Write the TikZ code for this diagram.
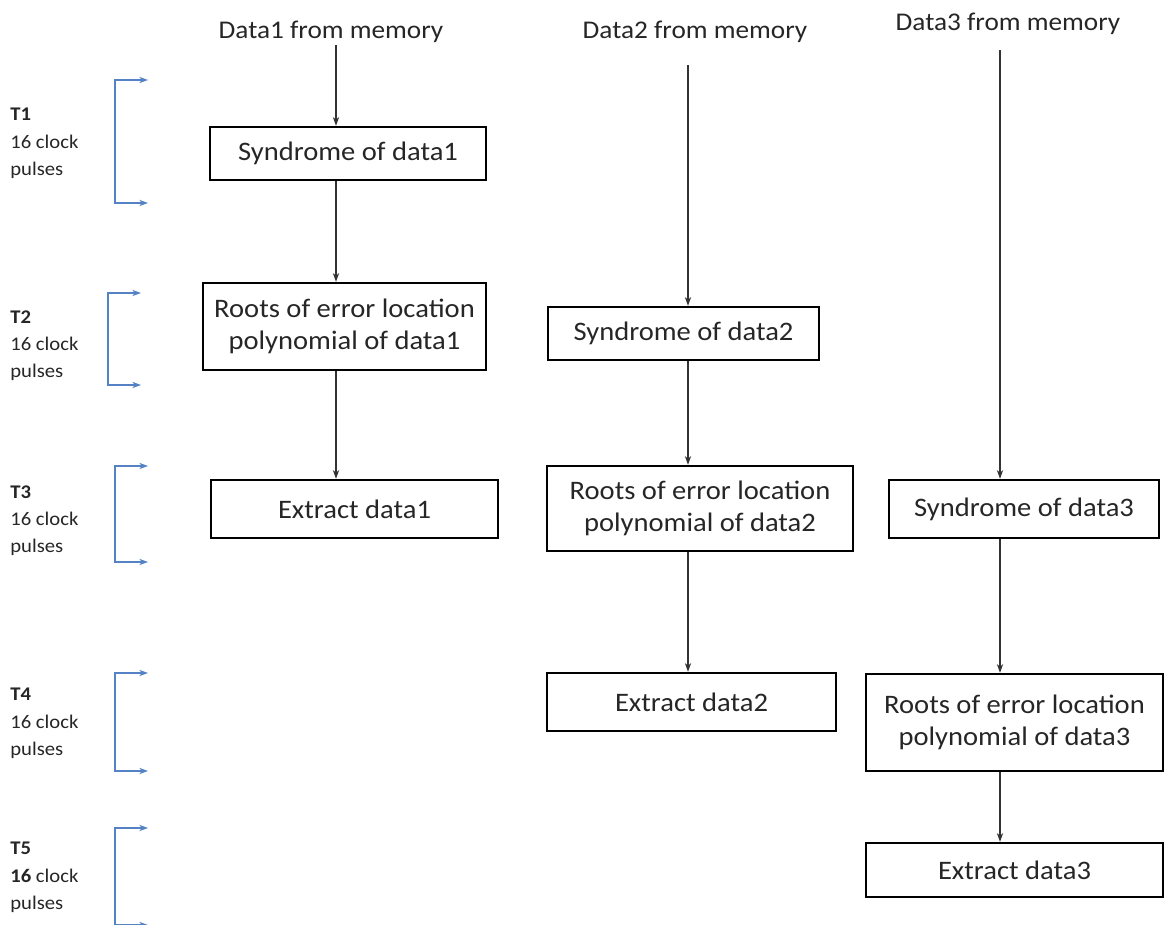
\documentclass[tikz,border=0pt]{standalone}
\usepackage{fontspec}
\setmainfont{Carlito}[FakeStretch=1.07]
\usepackage{tikz}
\usetikzlibrary{arrows.meta, positioning}
\definecolor{clockblue}{RGB}{84,130,196}
\definecolor{boxtext}{RGB}{38,38,38}

\tikzset{
  stage/.style={draw=black, line width=1.4pt, align=center, inner sep=0pt,
    font=\fontsize{15.2}{18}\selectfont, text=boxtext},
  source/.style={font=\fontsize{14.5}{18}\selectfont, text=boxtext, inner sep=1pt},
  flow/.style={draw=black!80, line width=0.6pt, -{Stealth[length=5pt,width=3.6pt]}},
  clock/.style={draw=clockblue, line width=0.7pt,
    {Stealth[length=5pt,width=3.6pt]}-{Stealth[length=5pt,width=3.6pt]}},
  period/.style={anchor=north west, align=left, inner sep=0pt,
    font=\fontsize{11}{15.6}\selectfont, text=boxtext}
}

\begin{document}
\begin{tikzpicture}[x=0.02cm, y=-0.02cm]
  \clip (0,0) rectangle (1165,925);
  \useasboundingbox (0,0) rectangle (1165,925);

  % Sources
  \node[source] (src1) at (331,32) {Data1 from memory};
  \node[source] (src2) at (695,32) {Data2 from memory};
  \node[source] (src3) at (1008,24) {Data3 from memory};

  % Column 1: data1
  \node[stage, minimum width=5.52cm, minimum height=1.06cm] (syn1) at (348,153.5) {Syndrome of data1};
  \node[stage, minimum width=5.66cm, minimum height=1.74cm] (root1) at (344.5,326.5) {Roots of error location\\polynomial of data1};
  \node[stage, minimum width=5.74cm, minimum height=1.16cm] (ext1) at (354.5,509) {Extract data1};

  % Column 2: data2
  \node[stage, minimum width=5.42cm, minimum height=1.06cm] (syn2) at (683.5,333.5) {Syndrome of data2};
  \node[stage, minimum width=6.12cm, minimum height=1.70cm] (root2) at (700,508.5) {Roots of error location\\polynomial of data2};
  \node[stage, minimum width=5.78cm, minimum height=1.16cm] (ext2) at (691.5,702) {Extract data2};

  % Column 3: data3
  \node[stage, minimum width=5.40cm, minimum height=1.16cm] (syn3) at (1024,509) {Syndrome of data3};
  \node[stage, minimum width=5.94cm, minimum height=1.94cm] (root3) at (1014.5,722.5) {Roots of error location\\polynomial of data3};
  \node[stage, minimum width=5.94cm, minimum height=1.08cm] (ext3) at (1014.5,870) {Extract data3};

  % Data paths
  \draw[flow] (336,45) -- (syn1.north -| 336,0);
  \draw[flow] (syn1.south -| 336,0) -- (root1.north -| 336,0);
  \draw[flow] (root1.south -| 336,0) -- (ext1.north -| 336,0);

  \draw[flow] (688,65) -- (syn2.north -| 688,0);
  \draw[flow] (syn2.south -| 688,0) -- (root2.north -| 688,0);
  \draw[flow] (root2.south -| 688,0) -- (ext2.north -| 688,0);

  \draw[flow] (1000,50) -- (syn3.north -| 1000,0);
  \draw[flow] (syn3.south -| 1000,0) -- (root3.north -| 1000,0);
  \draw[flow] (root3.south -| 1000,0) -- (ext3.north -| 1000,0);

  % Clock periods
  \foreach \tn/\ya/\yb/\xb/\yt in {1/80/203/115/108, 2/293/385/108/310, 3/466/562/115/485, 4/673/771/115/688} {
    \draw[clock] (\xb+33,\ya) -- (\xb,\ya) -- (\xb,\yb) -- (\xb+33,\yb);
    \node[period] (per\tn) at (10,\yt) {\textbf{T\tn}\\16 clock\\pulses};
  }
  \draw[clock] (148,828) -- (115,828) -- (115,925) -- (148,925);
  \node[period] (per5) at (10,842) {\textbf{T5}\\\textbf{16} clock\\pulses};
\end{tikzpicture}
\end{document}
